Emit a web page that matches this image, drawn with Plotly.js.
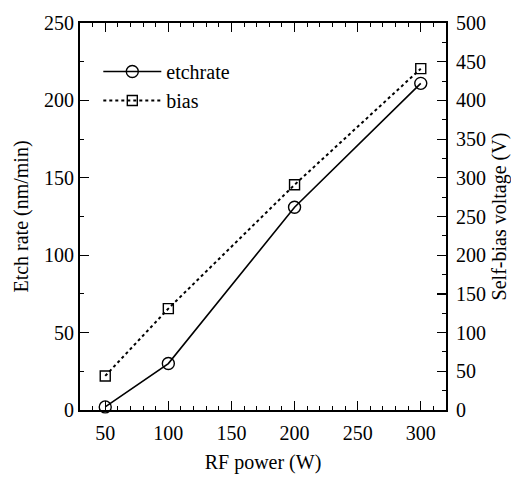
<!DOCTYPE html>
<html>
<head>
<meta charset="utf-8">
<script src="https://cdn.plot.ly/plotly-3.0.1.min.js"></script>
<style>html,body{margin:0;padding:0;background:#fff;}#chart{width:511px;height:479px;}</style>
</head>
<body>
<div id="chart"></div>
<script>
const rfPower = [50, 100, 200, 300];
const etchRate = [2, 30, 131, 211];
const biasVoltage = [44, 131, 291, 441];

const FONT = "Liberation Serif, Times New Roman, serif";
const FS = 20;

const traces = [
  {
    x: rfPower, y: etchRate, name: 'etchrate', type: 'scatter', mode: 'lines+markers',
    line: {color: '#000', width: 1.6, dash: 'solid'},
    marker: {symbol: 'circle-open', size: 12, color: '#000', line: {width: 1.4, color: '#000'}},
    yaxis: 'y', cliponaxis: false
  },
  {
    x: rfPower, y: biasVoltage, name: 'bias', type: 'scatter', mode: 'lines+markers',
    line: {color: '#000', width: 2, dash: 'dot'},
    marker: {symbol: 'square-open', size: 10, color: '#000', line: {width: 1.4, color: '#000'}},
    yaxis: 'y2', cliponaxis: false
  }
];

const tickStyle = {ticks: 'inside', ticklen: 9, tickwidth: 1.2, tickcolor: '#000'};

const layout = {
  width: 511, height: 479,
  margin: {l: 80, r: 65, t: 23, b: 69},
  paper_bgcolor: '#fff', plot_bgcolor: '#fff',
  font: {family: FONT, size: FS, color: '#000'},
  showlegend: true,
  legend: {x: 0.05, y: 0.925, xanchor: 'left', yanchor: 'top', bgcolor: 'rgba(0,0,0,0)',
           font: {family: FONT, size: FS, color: '#000'}, itemwidth: 58, tracegroupgap: 0},
  xaxis: Object.assign({
    range: [30, 320], tickvals: [50, 100, 150, 200, 250, 300],
    minor: {dtick: 10, tick0: 0, ticks: 'inside', ticklen: 4, tickcolor: '#000', tickwidth: 1},
    showline: true, linecolor: '#000', linewidth: 2,
    showgrid: false, zeroline: false, ticklabelstandoff: 4,
    title: {text: 'RF power (W)', font: {family: FONT, size: FS}, standoff: 12},
    tickfont: {family: FONT, size: FS}
  }, tickStyle),
  xaxis2: Object.assign({
    range: [30, 320], tickvals: [50, 100, 150, 200, 250, 300], overlaying: 'x', side: 'top',
    minor: {dtick: 10, tick0: 0, ticks: 'inside', ticklen: 4, tickcolor: '#000', tickwidth: 1},
    showline: true, linecolor: '#000', linewidth: 2, showticklabels: false,
    showgrid: false, zeroline: false
  }, tickStyle),
  yaxis: Object.assign({
    range: [0, 250], dtick: 50, tick0: 0,
    minor: {dtick: 25, ticks: 'inside', ticklen: 4, tickcolor: '#000', tickwidth: 1},
    showline: true, linecolor: '#000', linewidth: 2,
    showgrid: false, zeroline: false,
    title: {text: 'Etch rate (nm/min)', font: {family: FONT, size: FS}, standoff: 10},
    tickfont: {family: FONT, size: FS}
  }, tickStyle),
  yaxis2: Object.assign({
    range: [0, 500], dtick: 50, tick0: 0, overlaying: 'y', side: 'right',
    minor: {dtick: 25, ticks: 'inside', ticklen: 4, tickcolor: '#000', tickwidth: 1},
    showline: true, linecolor: '#000', linewidth: 2,
    showgrid: false, zeroline: false, ticklabelstandoff: 4,
    title: {text: 'Self-bias voltage (V)', font: {family: FONT, size: FS}, standoff: 8},
    tickfont: {family: FONT, size: FS}
  }, tickStyle)
};

traces.push({x: [rfPower[0]], y: [etchRate[0]], xaxis: 'x2', yaxis: 'y', mode: 'markers',
  marker: {opacity: 0}, showlegend: false, hoverinfo: 'skip'});

Plotly.newPlot('chart', traces, layout, {displayModeBar: false, staticPlot: true});
</script>
</body>
</html>
